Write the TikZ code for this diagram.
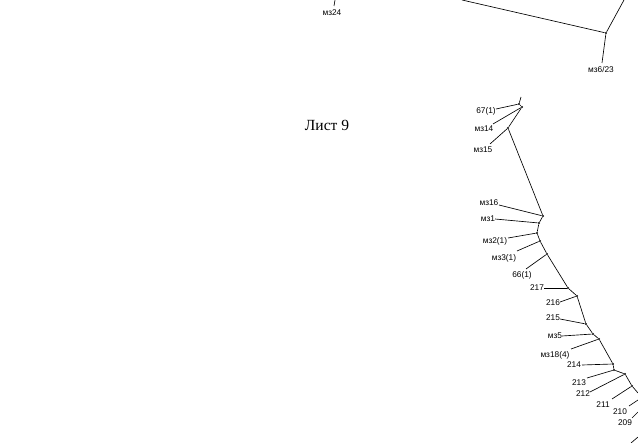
\documentclass[tikz,border=0pt]{standalone}
\usepackage{fontspec}
\setmainfont{Liberation Serif}
\setsansfont{Liberation Sans}
\usetikzlibrary{positioning}

\begin{document}
\begin{tikzpicture}[
    x=1pt, y=-1pt,
    lbl/.style={font=\sffamily\fontsize{8.3}{9}\selectfont, inner sep=0pt},
    knot/.style={circle, fill=black, inner sep=0pt, minimum size=2.4pt},
    edge/.style={line width=0.65pt}
]
\useasboundingbox (0,0) rectangle (638,443);

\node[font=\fontsize{15.5}{17}\selectfont] (sheet) at (327,125) {Лист 9};

% upper part
\coordinate (t24) at (335,0);
\coordinate (e24) at (334,6);
\node[lbl] (mz24) at (332,13) {мз24};
\coordinate (ta) at (462,0);
\coordinate (tb) at (624,0);
\node[knot] (b1) at (606,33) {};
\coordinate (e623) at (602,63);
\node[lbl] (mz623) at (601,70) {мз6/23};

\draw[edge] (t24) -- (e24);
\draw[edge] (ta) -- (b1);
\draw[edge] (tb) -- (b1);
\draw[edge] (b1) -- (e623);

% main branch
\coordinate (top) at (521,97);
\node[knot] (n1) at (519,104) {};
\node[knot] (n2) at (522,107) {};
\node[knot] (n3) at (508,128) {};
\node[knot] (n4) at (543,216) {};
\node[knot] (n5) at (539,223) {};
\node[knot] (n6) at (537,233) {};
\node[knot] (n7) at (540,241) {};
\node[knot] (n8) at (547,254) {};
\node[knot] (n9) at (568,288) {};
\node[knot] (n10) at (577,296) {};
\node[knot] (n11) at (586,324) {};
\node[knot] (n12) at (593,334) {};
\node[knot] (n13) at (599,339) {};
\node[knot] (n14) at (613,364) {};
\node[knot] (n15) at (614,370) {};
\node[knot] (n16) at (625,374) {};
\node[knot] (n17) at (632,386) {};
\coordinate (rim) at (638,393);

\draw[edge] (top) -- (n1) -- (n2) -- (n3) -- (n4) -- (n5) -- (n6) -- (n7)
    -- (n8) -- (n9) -- (n10) -- (n11) -- (n12) -- (n13) -- (n14) -- (n15)
    -- (n16) -- (n17) -- (rim);

% leaves
\node[lbl] (l67) at (486,111) {67(1)};
\node[lbl] (l14) at (484,129) {мз14};
\node[lbl] (l15) at (483,150) {мз15};
\node[lbl] (l16) at (489,203) {мз16};
\node[lbl] (l1) at (488,219) {мз1};
\node[lbl] (l2) at (495,241) {мз2(1)};
\node[lbl] (l3) at (504,258) {мз3(1)};
\node[lbl] (l66) at (522,275) {66(1)};
\node[lbl] (l217) at (537,288) {217};
\node[lbl] (l216) at (553,303) {216};
\node[lbl] (l215) at (553,318) {215};
\node[lbl] (l5) at (555,336) {мз5};
\node[lbl] (l18) at (555,355) {мз18(4)};
\node[lbl] (l214) at (574,365) {214};
\node[lbl] (l213) at (579,383) {213};
\node[lbl] (l212) at (583,394) {212};
\node[lbl] (l211) at (603,405) {211};
\node[lbl] (l210) at (620,412) {210};
\node[lbl] (l209) at (625,423) {209};

\coordinate (e67) at (496,109);
\coordinate (e14) at (493,124);
\coordinate (e15) at (490,144);
\coordinate (e16) at (499,205);
\coordinate (e1) at (495,219);
\coordinate (e2) at (508,238);
\coordinate (e3) at (517,251);
\coordinate (e66) at (526,269);
\coordinate (e217) at (544,288);
\coordinate (e216) at (560,302);
\coordinate (e215) at (560,319);
\coordinate (e5) at (562,336);
\coordinate (e18) at (571,349);
\coordinate (e214) at (582,365);
\coordinate (e213) at (587,378);
\coordinate (e212) at (590,392);
\coordinate (e211) at (612,399);
\coordinate (e210) at (629,406);
\coordinate (f210) at (638,400);
\coordinate (e209) at (632,418);
\coordinate (f209) at (638,412);
\coordinate (g1) at (631,443);
\coordinate (g2) at (638,437);

\draw[edge] (e67) -- (n1);
\draw[edge] (e14) -- (n2);
\draw[edge] (e15) -- (n3);
\draw[edge] (e16) -- (n4);
\draw[edge] (e1) -- (n5);
\draw[edge] (e2) -- (n6);
\draw[edge] (e3) -- (n7);
\draw[edge] (e66) -- (n8);
\draw[edge] (e217) -- (n9);
\draw[edge] (e216) -- (n10);
\draw[edge] (e215) -- (n11);
\draw[edge] (e5) -- (n12);
\draw[edge] (e18) -- (n13);
\draw[edge] (e214) -- (n14);
\draw[edge] (e213) -- (n15);
\draw[edge] (e212) -- (n16);
\draw[edge] (e211) -- (n17);
\draw[edge] (e210) -- (f210);
\draw[edge] (e209) -- (f209);
\draw[edge] (g1) -- (g2);
\end{tikzpicture}
\end{document}
